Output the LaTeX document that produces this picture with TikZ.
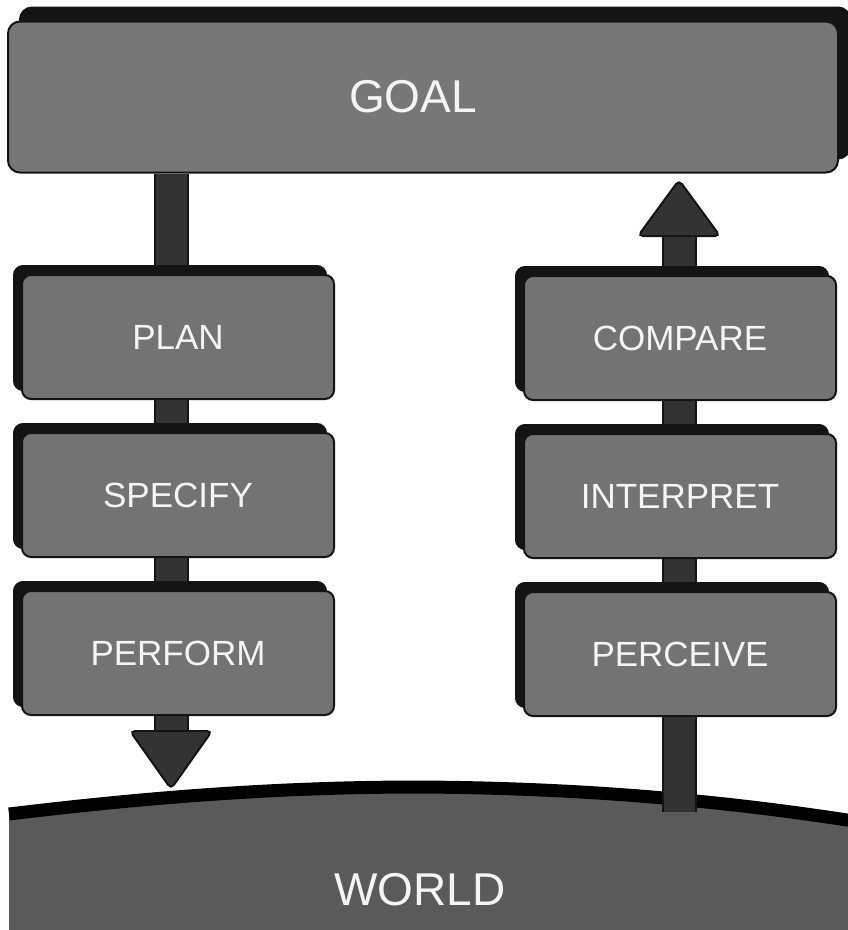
\documentclass[tikz,border=0pt]{standalone}
\usepackage{fontspec}
\setmainfont{Liberation Sans}
\usetikzlibrary{shadows}
\definecolor{boxgray}{HTML}{737373}
\definecolor{goalgray}{HTML}{777777}
\definecolor{worldgray}{HTML}{5A5A5A}
\definecolor{shaftdark}{HTML}{333333}
\definecolor{edge}{HTML}{141414}
\definecolor{labelwhite}{HTML}{F4F4F4}
\begin{document}
\begin{tikzpicture}[x=1pt,y=-1pt,
  stagebox/.style={draw=edge, line width=2pt, fill=boxgray, rounded corners=9pt,
    minimum width=312pt, minimum height=124pt, text=labelwhite,
    font=\fontsize{35}{40}\selectfont,
    copy shadow={shadow xshift=-8pt, shadow yshift=9pt, fill=edge, draw=edge}},
  goalbox/.style={draw=edge, line width=2pt, fill=goalgray, rounded corners=12pt,
    minimum width=830pt, minimum height=151pt, text=labelwhite,
    font=\fontsize{46}{50}\selectfont,
    copy shadow={shadow xshift=12pt, shadow yshift=14pt, fill=edge, draw=edge}},
  shaft/.style={draw=edge, line width=2pt, double=shaftdark, double distance=31pt},
  headshape/.style={fill=shaftdark, draw=edge, line width=2pt, rounded corners=5pt},
  worldtext/.style={text=labelwhite, font=\fontsize{46}{50}\selectfont}]
\fill[white] (0,0) rectangle (848,930);
\clip (0,0) rectangle (848,930);

% coordinates for connector ends
\coordinate (tipL) at (171,789);
\coordinate (baseL) at (171,731);
\coordinate (tipR) at (679,180);
\coordinate (baseR) at (679,236);
\coordinate (worldR) at (679,812);

% world
\fill[worldgray]
  (9,814) .. controls (150,797) and (280,787) .. (420,787)
  .. controls (580,788) and (720,800) .. (860,822) -- (860,945) -- (9,945) -- cycle;
\draw[black, line width=13pt]
  (9,814) .. controls (150,797) and (280,787) .. (420,787)
  .. controls (580,788) and (720,800) .. (860,822);
\node[worldtext] (world) at (420,890) {WORLD};

% goal
\node[goalbox] (goal) at (423,97) {\hspace*{-20pt}GOAL};

% shafts
\draw[shaft] (goal.south -| tipL) -- (baseL);
\draw[shaft] (worldR) -- (baseR);

% stage boxes
\node[stagebox] (plan) at (178,337) {PLAN};
\node[stagebox] (specify) at (178,495) {SPECIFY};
\node[stagebox] (perform) at (178,653) {PERFORM};
\node[stagebox] (compare) at (680,338) {COMPARE};
\node[stagebox] (interpret) at (680,496) {INTERPRET};
\node[stagebox] (perceive) at (680,654) {PERCEIVE};

% arrowheads
\filldraw[headshape] ([shift={(-41,0)}]baseL) -- ([shift={(41,0)}]baseL) -- (tipL) -- cycle;
\filldraw[headshape] ([shift={(-41,0)}]baseR) -- ([shift={(41,0)}]baseR) -- (tipR) -- cycle;
\end{tikzpicture}
\end{document}
